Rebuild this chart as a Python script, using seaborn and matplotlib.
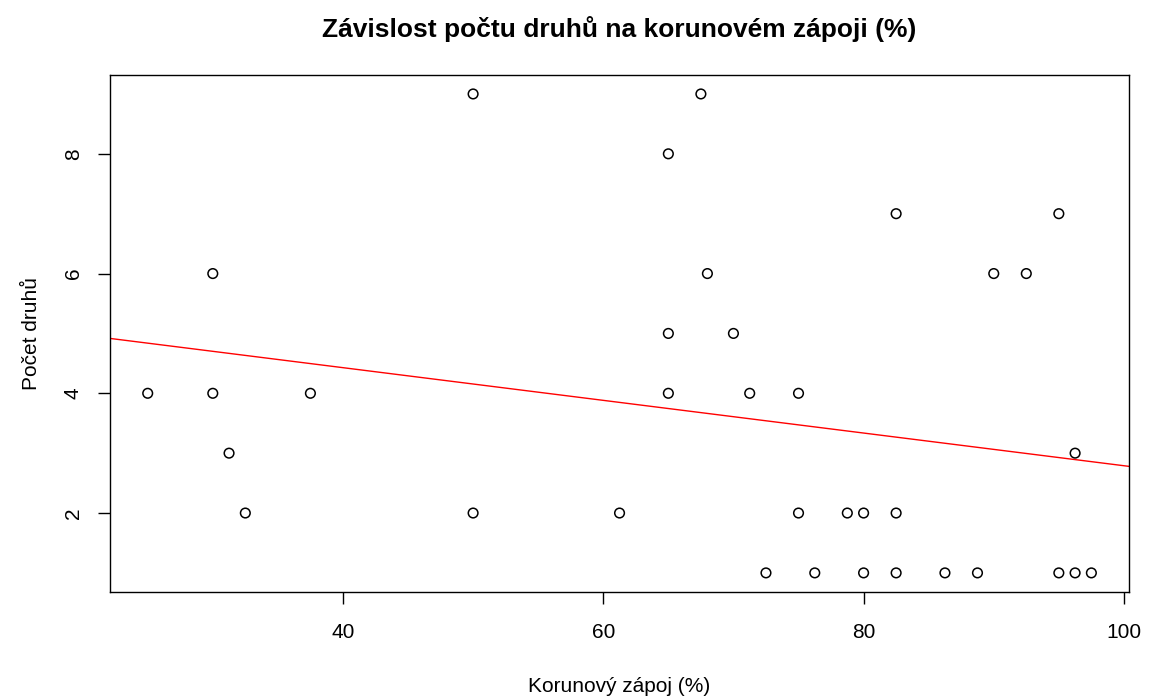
import pandas as pd
import seaborn as sns
import matplotlib.pyplot as plt

# odečtené hodnoty z grafu
zapoj = [25, 30, 30, 31.25, 32.5, 37.5, 50, 50, 61.25, 65, 65, 65, 67.5, 68,
         70, 71.25, 72.5, 75, 75, 76.25, 78.75, 80, 80, 82.5, 82.5, 82.5,
         86.25, 88.75, 90, 92.5, 95, 95, 96.25, 96.25, 97.5]
druhy = [4, 6, 4, 3, 2, 4, 9, 2, 2, 8, 5, 4, 9, 6,
         5, 4, 1, 4, 2, 1, 2, 2, 1, 7, 2, 1,
         1, 1, 6, 6, 7, 1, 3, 1, 1]
# regresní přímka (abline)
intercept = 5.52
slope = -0.0273

df = pd.DataFrame({'zapoj': zapoj, 'druhy': druhy})

sns.set_theme(style="white")
plt.rcParams['font.family'] = ['Liberation Sans', 'DejaVu Sans']
plt.rcParams['text.color'] = 'black'
plt.rcParams['axes.labelcolor'] = 'black'

fig = plt.figure(figsize=(11.49, 6.99), dpi=100)
ax = fig.add_axes([0.0957, 0.153, 0.887, 0.740])

sns.scatterplot(data=df, x='zapoj', y='druhy', ax=ax, s=48,
                facecolor='none', edgecolor='black', linewidth=1.1, zorder=3)
ax.axline((0, intercept), slope=slope, color='red', linewidth=1, zorder=2)

ax.set_xlim(22.1, 100.4)
ax.set_ylim(0.68, 9.32)
ax.set_xticks([40, 60, 80, 100])
ax.set_yticks([2, 4, 6, 8])

for s in ax.spines.values():
    s.set_color('black')
    s.set_linewidth(1)

ax.tick_params(axis='both', direction='out', length=8.5, width=1, color='black',
               labelsize=15, labelcolor='black', bottom=True, left=True)
ax.tick_params(axis='x', pad=14)
ax.tick_params(axis='y', pad=11)
for lab in ax.get_yticklabels():
    lab.set_rotation(90)
    lab.set_va('center')

ax.set_title('Závislost počtu druhů na korunovém zápoji (%)', fontsize=19,
             fontweight='bold', pad=27, color='black')
ax.set_xlabel('Korunový zápoj (%)', fontsize=15, va='center')
ax.set_ylabel('Počet druhů', fontsize=15, va='center')
ax.xaxis.set_label_coords(0.5, -0.182)
ax.yaxis.set_label_coords(-0.077, 0.5)

plt.savefig('out.png', dpi=100)
